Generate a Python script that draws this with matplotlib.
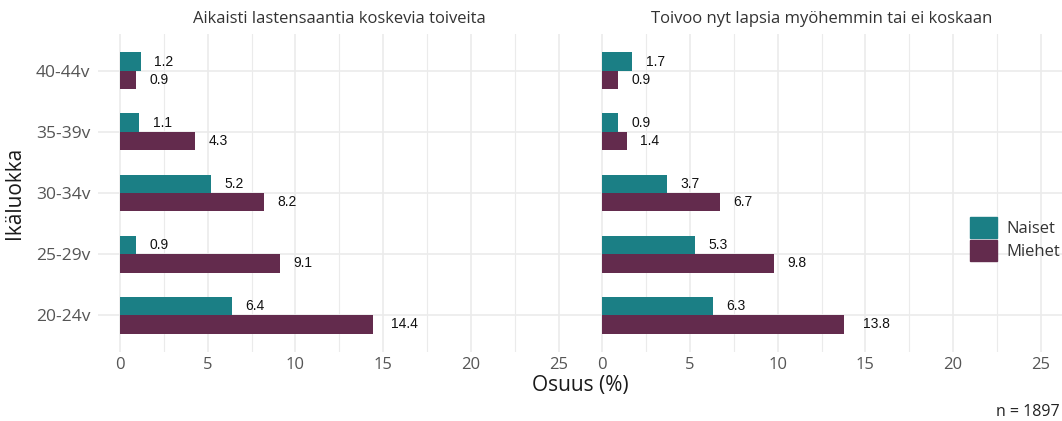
import numpy as np
import matplotlib
matplotlib.use("Agg")
import matplotlib.pyplot as plt
from matplotlib.patches import Patch
from matplotlib.transforms import ScaledTranslation

# data (bottom -> top)
ages = ["20-24v", "25-29v", "30-34v", "35-39v", "40-44v"]
facets = ["Aikaisti lastensaantia koskevia toiveita",
          "Toivoo nyt lapsia myöhemmin tai ei koskaan"]
naiset_early = [6.4, 0.9, 5.2, 1.1, 1.2]
miehet_early = [14.4, 9.1, 8.2, 4.3, 0.9]
naiset_later = [6.3, 5.3, 3.7, 0.9, 1.7]
miehet_later = [13.8, 9.8, 6.7, 1.4, 0.9]
groups = ["Naiset", "Miehet"]
x_ticks = [0, 5, 10, 15, 20, 25]
n_text = "n = 1897"

TEAL = "#1B7F85"
PURPLE = "#632B4D"
GRID = "#EBEBEB"
FONT = "Open Sans"
plt.rcParams["font.family"] = [FONT, "DejaVu Sans"]

W, H = 1062, 421
fig = plt.figure(figsize=(W / 100, H / 100), dpi=100)

def px_box(x0, x1, y0, y1):
    return [x0 / W, 1 - y1 / H, (x1 - x0) / W, (y1 - y0) / H]

axes = [fig.add_axes(px_box(98, 580.5, 34, 352)),
        fig.add_axes(px_box(580.5, 1062.5, 34, 352))]
data = [(naiset_early, miehet_early), (naiset_later, miehet_later)]

y = np.arange(len(ages))
bw = 0.3
labels = []
for ax, (nai, mie), title in zip(axes, data, facets):
    ax.set_axisbelow(True)
    ax.barh(y + bw / 2, nai, height=bw, color=TEAL)
    ax.barh(y - bw / 2, mie, height=bw, color=PURPLE)
    for yy, v in zip(y + bw / 2, nai):
        labels.append((ax, ax.text(v, yy, f"{v:.1f}", ha="left", va="center",
                                   fontsize=10, family="Liberation Sans", color="#111111")))
    for yy, v in zip(y - bw / 2, mie):
        labels.append((ax, ax.text(v, yy, f"{v:.1f}", ha="left", va="center",
                                   fontsize=10, family="Liberation Sans", color="#111111")))
    ax.set_xlim(-1.25, 26.25)
    ax.set_ylim(-0.6, len(ages) - 0.4)
    ax.set_xticks(x_ticks)
    ax.set_xticks(np.arange(2.5, 26, 5), minor=True)
    ax.set_yticks(y)
    ax.grid(True, which="major", color=GRID, lw=1.2)
    ax.grid(True, which="minor", axis="x", color=GRID, lw=0.8)
    ax.tick_params(which="both", length=0)
    ax.tick_params(axis="x", labelsize=12, labelcolor="#555555", pad=3.5)
    ax.tick_params(axis="y", labelsize=12.5, labelcolor="#555555", pad=5.5)
    for s in ax.spines.values():
        s.set_visible(False)
    ax.text(0.5, 1 + 15 / 318, title, transform=ax.transAxes, ha="center",
            va="center", fontsize=12, color="#333333")

axes[0].set_yticklabels(ages)
axes[1].set_yticklabels([])

# push value labels to the right by a share of their own width
fig.canvas.draw()
for ax, t in labels:
    w = t.get_window_extent().width
    t.set_transform(ax.transData + ScaledTranslation(0.7 * w / fig.dpi, 0, fig.dpi_scale_trans))

fig.text(580 / W, 1 - 386 / H, "Osuus (%)", ha="center", va="center",
         fontsize=15, color="#1a1a1a")
fig.text(15 / W, 1 - 193 / H, "Ikäluokka", ha="center", va="center",
         rotation=90, fontsize=15, color="#1a1a1a")
fig.text(1060 / W, 1 - 412 / H, n_text, ha="right", va="center",
         fontsize=11.5, color="#222222")

handles = [Patch(color=TEAL), Patch(color=PURPLE)]
fig.legend(handles, groups, loc="center left", bbox_to_anchor=(970 / W, 1 - 239 / H),
           frameon=False, fontsize=12, handlelength=1.6, handleheight=1.6,
           labelspacing=0.12, handletextpad=0.6, borderpad=0, borderaxespad=0,
           labelcolor="#333333")

fig.savefig("out.png", dpi=100)
